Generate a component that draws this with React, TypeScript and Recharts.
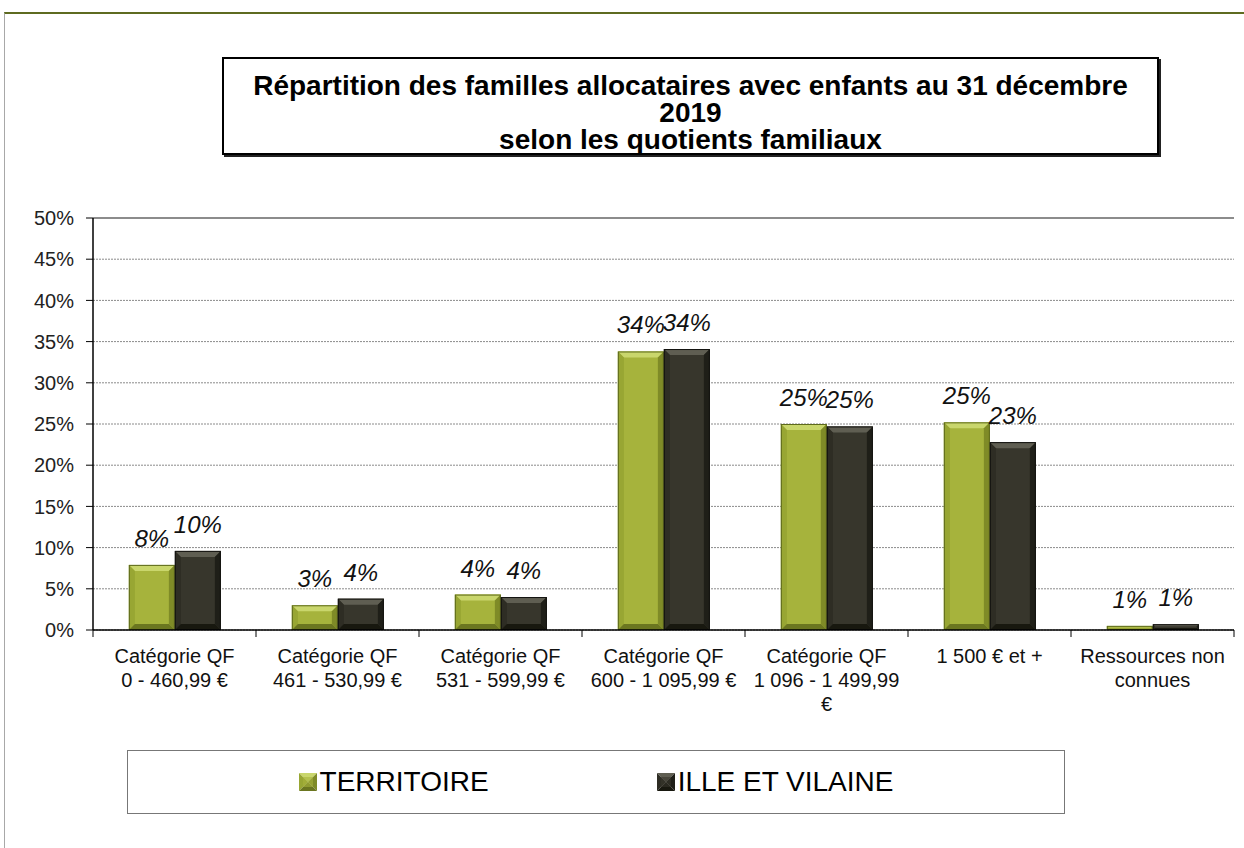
import { BarChart, Bar, XAxis, YAxis, CartesianGrid, ReferenceLine, LabelList } from "recharts";

const categories = [
  "Catégorie QF\n0 - 460,99 €",
  "Catégorie QF\n461 - 530,99 €",
  "Catégorie QF\n531 - 599,99 €",
  "Catégorie QF\n600 - 1 095,99 €",
  "Catégorie QF\n1 096 - 1 499,99\n€",
  "1 500 € et +",
  "Ressources non\nconnues",
];
const territoire = [7.9, 3.0, 4.3, 33.8, 25.0, 25.2, 0.5];
const illeEtVilaine = [9.6, 3.8, 4.0, 34.1, 24.7, 22.8, 0.7];
const yTicks = [0, 5, 10, 15, 20, 25, 30, 35, 40, 45, 50];
const seriesNames = ["TERRITOIRE", "ILLE ET VILAINE"];
const title = "Répartition des familles allocataires avec enfants au 31 décembre\n2019\nselon les quotients familiaux";

const FONT = "'Liberation Sans', Arial, sans-serif";
const W = 1244;
const H = 848;
const M = { top: 218, right: 10, left: 13, bottom: 118 };
const Y_AXIS_W = 80;
const BAND = (W - M.left - Y_AXIS_W - M.right) / categories.length;

const data = categories.map((name, i) => ({
  name,
  territoire: territoire[i],
  ille: illeEtVilaine[i],
}));

type Palette = { main: string; top: string; left: string; right: string; bottom: string; edge: string };

const green: Palette = {
  main: "#a6b33c",
  top: "#c9d66c",
  left: "#98a633",
  right: "#7f8b27",
  bottom: "#6b7620",
  edge: "#5e6a1c",
};
const dark: Palette = {
  main: "#37362c",
  top: "#5f5e52",
  left: "#2e2d24",
  right: "#1f1f18",
  bottom: "#18180f",
  edge: "#131310",
};

function bevelShape(p: Palette) {
  return (props: any) => {
    const { x, y, width, height } = props;
    if (!height || height <= 0) return <g />;
    const b = Math.min(6, height / 3, width / 4);
    const x2 = x + width;
    const y2 = y + height;
    return (
      <g>
        <rect x={x} y={y} width={width} height={height} fill={p.main} />
        <polygon points={`${x},${y} ${x2},${y} ${x2 - b},${y + b} ${x + b},${y + b}`} fill={p.top} />
        <polygon points={`${x},${y} ${x + b},${y + b} ${x + b},${y2 - b} ${x},${y2}`} fill={p.left} />
        <polygon points={`${x2},${y} ${x2},${y2} ${x2 - b},${y2 - b} ${x2 - b},${y + b}`} fill={p.right} />
        <polygon points={`${x},${y2} ${x + b},${y2 - b} ${x2 - b},${y2 - b} ${x2},${y2}`} fill={p.bottom} />
        <rect x={x + 0.5} y={y + 0.5} width={width - 1} height={height - 1} fill="none" stroke={p.edge} strokeWidth={1} />
      </g>
    );
  };
}

function CategoryTick(props: any) {
  const { x, y, payload, index } = props;
  const lines = String(payload.value).split("\n");
  const half = BAND / 2;
  return (
    <g>
      <line x1={x - half} x2={x - half} y1={y} y2={y + 7} stroke="#000" strokeWidth={1} />
      {index === categories.length - 1 && (
        <line x1={x + half} x2={x + half} y1={y} y2={y + 7} stroke="#000" strokeWidth={1} />
      )}
      <text x={x} y={y + 33} textAnchor="middle" fontSize={20} fontFamily={FONT} fill="#111">
        {lines.map((l, i) => (
          <tspan key={i} x={x} dy={i === 0 ? 0 : 24}>
            {l}
          </tspan>
        ))}
      </text>
    </g>
  );
}

function LegendIcon({ p }: { p: Palette }) {
  const s = 18;
  const c = s / 2;
  return (
    <svg width={s} height={s} style={{ display: "block" }}>
      <polygon points={`0,0 ${s},0 ${c},${c}`} fill={p.top} />
      <polygon points={`0,0 ${c},${c} 0,${s}`} fill={p.left} />
      <polygon points={`${s},0 ${s},${s} ${c},${c}`} fill={p.right} />
      <polygon points={`0,${s} ${c},${c} ${s},${s}`} fill={p.bottom} />
      <rect x={4} y={4} width={s - 8} height={s - 8} fill={p.main} opacity={0.6} />
    </svg>
  );
}

export default function App() {
  const pct = (v: any) => `${Math.round(Number(v))}%`;
  return (
    <div style={{ position: "absolute", left: 0, top: 0, width: W, height: H, background: "#fff", fontFamily: FONT }}>
      <div
        style={{
          position: "absolute",
          left: 4,
          top: 12,
          right: 0,
          bottom: 0,
          borderTop: "2px solid #5e6b20",
          borderLeft: "1px solid #a8a8a8",
        }}
      />
      <BarChart
        width={W}
        height={H}
        data={data}
        margin={M}
        barCategoryGap="22%"
        barGap={0}
        style={{ position: "absolute", left: 0, top: 0 }}
      >
        <CartesianGrid vertical={false} stroke="#8a8a8a" strokeDasharray="2 1" />
        <XAxis
          dataKey="name"
          height={100}
          interval={0}
          tickSize={0}
          tickMargin={0}
          tickLine={false}
          axisLine={{ stroke: "#000", strokeWidth: 1.5 }}
          tick={<CategoryTick />}
        />
        <YAxis
          width={Y_AXIS_W}
          domain={[0, 50]}
          ticks={yTicks}
          interval={0}
          tickFormatter={(v: number) => `${v}%`}
          tickSize={7}
          tickMargin={12}
          axisLine={{ stroke: "#000", strokeWidth: 1.5 }}
          tickLine={{ stroke: "#000" }}
          tick={{ fontSize: 20, fontFamily: FONT, fill: "#222" }}
        />
        <YAxis
          yAxisId="right"
          orientation="right"
          width={0}
          domain={[0, 50]}
          tick={false}
          tickLine={false}
          axisLine={{ stroke: "#8c8c8c", strokeWidth: 2 }}
        />
        <ReferenceLine y={50} stroke="#8c8c8c" strokeWidth={2} />
        <Bar dataKey="territoire" name={seriesNames[0]} shape={bevelShape(green)} isAnimationActive={false}>
          <LabelList
            dataKey="territoire"
            position="top"
            offset={18}
            formatter={pct}
            fontSize={24}
            fontStyle="italic"
            fontFamily={FONT}
            fill="#111"
          />
        </Bar>
        <Bar dataKey="ille" name={seriesNames[1]} shape={bevelShape(dark)} isAnimationActive={false}>
          <LabelList
            dataKey="ille"
            position="top"
            offset={18}
            formatter={pct}
            fontSize={24}
            fontStyle="italic"
            fontFamily={FONT}
            fill="#111"
          />
        </Bar>
      </BarChart>
      <div
        style={{
          position: "absolute",
          left: 222,
          top: 57,
          width: 937,
          height: 98,
          border: "2px solid #000",
          boxShadow: "2px 2px 0 #222",
          background: "#fff",
          textAlign: "center",
          fontWeight: "bold",
          fontSize: 28,
          lineHeight: "27px",
          whiteSpace: "pre-line",
          paddingTop: 13,
          boxSizing: "border-box",
          color: "#000",
        }}
      >
        {title}
      </div>
      <div
        style={{
          position: "absolute",
          left: 127,
          top: 750,
          width: 938,
          height: 64,
          border: "1px solid #777",
          boxSizing: "border-box",
          display: "flex",
          alignItems: "center",
          justifyContent: "center",
          gap: 168,
          fontSize: 28,
          color: "#000",
        }}
      >
        {seriesNames.map((n, i) => (
          <div key={n} style={{ display: "flex", alignItems: "center", gap: 3 }}>
            <LegendIcon p={i === 0 ? green : dark} />
            <span>{n}</span>
          </div>
        ))}
      </div>
    </div>
  );
}
